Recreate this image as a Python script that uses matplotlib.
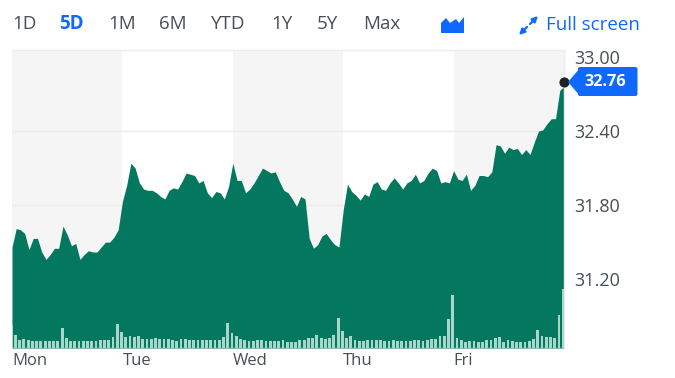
import matplotlib
matplotlib.use("Agg")
import matplotlib.pyplot as plt
import numpy as np
from matplotlib.patches import Polygon, FancyBboxPatch, FancyArrowPatch
from matplotlib.transforms import offset_copy

plt.rcParams['font.family'] = ['Open Sans', 'DejaVu Sans']

mon = [31.46,31.61,31.60,31.57,31.44,31.53,31.53,31.42,31.36,31.40,31.45,31.45,31.63,31.56,31.47,31.49,31.36,31.40,31.43,31.42,31.42,31.46,31.50,31.50,31.54,31.60]
tue = [31.83,31.96,32.14,32.10,31.98,31.93,31.92,31.92,31.90,31.87,31.85,31.92,31.94,31.93,31.99,32.06,32.05,32.04,31.98,32.00,31.90,31.86,31.91,31.90,31.85,31.95]
wed = [32.14,32.00,32.00,31.90,31.93,31.98,32.04,32.10,32.08,32.06,32.07,31.99,31.92,31.90,31.85,31.79,31.87,31.85,31.53,31.45,31.48,31.55,31.57,31.52,31.48,31.46]
thu = [31.76,31.97,31.91,31.88,31.84,31.89,31.87,31.97,31.99,31.93,31.92,31.98,32.02,31.98,31.93,31.98,32.00,32.05,31.98,32.00,32.06,32.10,32.08,31.98,31.99,31.98]
fri = [32.08,32.01,32.00,32.05,31.92,31.96,32.04,32.04,32.03,32.07,32.29,32.28,32.22,32.27,32.25,32.26,32.21,32.25,32.21,32.31,32.40,32.41,32.46,32.50,32.50,32.73,32.76]

vol_mon = [65,38,24,26,23,22,20,20,20,20,20,20,60,29,20,22,22,20,20,20,20,24,25,25,33,72]
vol_tue = [47,34,35,32,37,28,27,27,30,26,28,27,24,21,28,27,25,25,25,25,24,24,25,25,34,75]
vol_wed = [45,35,28,23,21,22,24,24,22,22,20,21,25,19,19,19,23,24,31,29,39,30,28,29,39,89]
vol_thu = [51,30,36,24,22,22,23,23,23,24,21,21,23,20,21,21,20,24,24,21,24,27,28,36,37,87]
vol_fri = [160,29,23,19,21,21,18,18,25,24,29,33,17,23,21,19,19,17,22,27,55,37,32,34,31,98,178]

day_labels = ['Mon', 'Tue', 'Wed', 'Thu', 'Fri']
y_ticks = [31.20, 31.80, 32.40, 33.00]
last_price = 32.76
ranges = ['1D', '5D', '1M', '6M', 'YTD', '1Y', '5Y', 'Max']
range_x = [12, 59, 108, 159, 211, 271, 317, 363]

price = np.array(mon + tue + wed + thu + fri)
volume = np.array(vol_mon + vol_tue + vol_wed + vol_thu + vol_fri)
idx = np.arange(len(price))
day_len = len(mon)

GREEN = '#03785f'
LIGHT = '#a9d6cb'
BAND = '#f5f5f5'
GRID = '#ececec'
TEXT = '#464e56'
BLUE = '#0f69ff'

W, H = 675, 378
fig = plt.figure(figsize=(W / 100, H / 100), dpi=100, facecolor='white')
ax = fig.add_axes([12 / W, 1 - 348 / H, 552 / W, 298 / H])
ax.set_xlim(0, len(price) - 1)
ax.set_ylim(30.642, 33.057)

for d in (0, 2, 4):
    ax.axvspan(d * day_len, (d + 1) * day_len, color=BAND, lw=0, zorder=0)
ax.fill_between(idx, price, 30.642, color=GREEN, lw=0, zorder=2)
ax.set_xticks(np.arange(5) * day_len, day_labels, ha='left')
for s in ('left', 'bottom'):
    ax.spines[s].set_visible(False)
for s in ('top', 'right'):
    ax.spines[s].set_color(GRID)
    ax.spines[s].set_linewidth(1.0)

vax = ax.twinx()
vax.set_ylim(0, 894)
vax.set_yticks([])
for s in vax.spines.values():
    s.set_visible(False)
vax.bar(idx - 0.2, volume, width=0.66, color=LIGHT, lw=0, zorder=3)
vax.axhline(0, color=LIGHT, lw=1.0)

# price axis on the right (after twinx, which moves it back to the left)
ax.yaxis.tick_right()
ax.set_yticks(y_ticks, [f'{v:.2f}' for v in y_ticks])
ax.grid(axis='y', color=GRID, lw=1.0, zorder=1)
ax.yaxis.get_gridlines()[-1].set_visible(False)
ax.tick_params(axis='x', length=0, pad=3.5, labelsize=12, labelcolor=TEXT)
ax.tick_params(axis='y', length=0, pad=7.5, labelsize=13, labelcolor=TEXT)

# marker and call-out for the last price
dot_tf = offset_copy(ax.transData, fig=fig, x=0, y=4.5, units='dots')
vax.plot([idx[-1]], [last_price], transform=dot_tf, marker='o', ms=6.3,
         color='#1f2328', clip_on=False, zorder=6)

def px(x, y):
    return (x / W, 1 - y / H)

fig.add_artist(Polygon([px(568, 82), px(580, 68), px(580, 96)], closed=True,
                       transform=fig.transFigure, fc=BLUE, lw=0))
fig.add_artist(FancyBboxPatch((578, H - 96), 59.5, 29, boxstyle='round,pad=0,rounding_size=2',
                              transform=None, fc=BLUE, lw=0))
fig.text(*px(584, 82), f'{last_price:.2f}', color='white', fontsize=11.7, fontweight='bold', va='center', ha='left')

# toolbar
for label, x in zip(ranges, range_x):
    active = label == '5D'
    fig.text(*px(x, 24), label, fontsize=13.5, va='center', ha='left',
             color=BLUE if active else TEXT, fontweight='bold' if active else 'normal')
fig.add_artist(Polygon([px(441, 33), px(441, 23), px(446, 18), px(450, 23), px(456, 19), px(459, 23), px(464, 17), px(464, 33)],
                       closed=True, transform=fig.transFigure, fc=BLUE, lw=0))
fig.text(*px(546, 25), 'Full screen', fontsize=13.5, va='center', ha='left', color=BLUE)
for a, b in ((px(530, 24), px(538, 16)), (px(527, 27), px(519, 35))):
    fig.add_artist(FancyArrowPatch(a, b, transform=fig.transFigure, arrowstyle='-|>',
                                   mutation_scale=8, lw=1.6, color=BLUE, shrinkA=0, shrinkB=0))

fig.savefig('out.png', dpi=100)
